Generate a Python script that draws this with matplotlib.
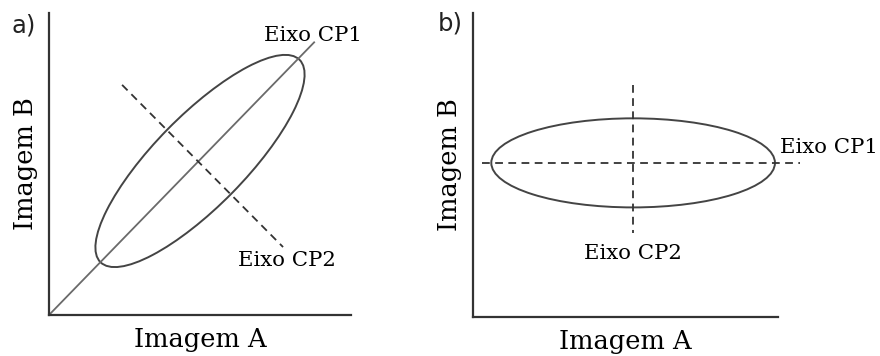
import matplotlib
matplotlib.use("Agg")
import matplotlib.pyplot as plt
from matplotlib.patches import Ellipse

# Panel a: correlated bands, principal axes rotated
a_center = (50, 51)
a_width, a_height, a_angle = 94, 30, 45.5
a_cp1 = ([0, 88], [0, 90.5])
a_cp2 = ([24.2, 77.5], [76.2, 22.5])

# Panel b: same data after rotation onto the principal components
b_center = (52.5, 50.7)
b_width, b_height, b_angle = 93, 29.3, 0
b_cp1 = ([3.0, 107.2], [50.7, 50.7])
b_cp2 = ([52.5, 52.5], [76.3, 27.6])

xlabel = "Imagem A"
ylabel = "Imagem B"
cp1_label = "Eixo CP1"
cp2_label = "Eixo CP2"

W, H, DPI = 880, 356, 100
fig = plt.figure(figsize=(W / DPI, H / DPI), dpi=DPI)
fig.patch.set_facecolor("white")

serif = "DejaVu Serif"
axis_color = "#333333"
ell_color = "#444444"
dash = (0, (4.3, 3.0))


def make_axes(left_px, top_px, right_px, bottom_px):
    ax = fig.add_axes([left_px / W, 1 - bottom_px / H,
                       (right_px - left_px) / W, (bottom_px - top_px) / H])
    ax.set_xlim(0, 100)
    ax.set_ylim(0, 100)
    for s in ("top", "right"):
        ax.spines[s].set_visible(False)
    for s in ("left", "bottom"):
        ax.spines[s].set_color(axis_color)
        ax.spines[s].set_linewidth(1.6)
    ax.set_xticks([])
    ax.set_yticks([])
    ax.set_xlabel(xlabel, family=serif, fontsize=18.5, labelpad=9)
    ax.set_ylabel(ylabel, family=serif, fontsize=18.5, labelpad=8)
    return ax


# ---- a) ----
ax1 = make_axes(49, 13, 351, 315)
ax1.add_patch(Ellipse(a_center, a_width, a_height, angle=a_angle,
                      fill=False, edgecolor=ell_color, linewidth=1.4))
ax1.plot(*a_cp1, color="#6a6a6a", linewidth=1.3, solid_capstyle="butt")
ax1.plot(*a_cp2, color="#333333", linewidth=1.3, linestyle=dash)
ax1.text(87.4, 92.7, cp1_label, family=serif, fontsize=15.3,
         ha="center", va="center")
ax1.text(78.8, 18.2, cp2_label, family=serif, fontsize=15.3,
         ha="center", va="center")
ax1.text(-8.3, 95.8, "a)", fontsize=17.5, ha="center", va="center",
         color="#222222")

# ---- b) ----
ax2 = make_axes(473, 13, 778, 317)
ax2.add_patch(Ellipse(b_center, b_width, b_height, angle=b_angle,
                      fill=False, edgecolor=ell_color, linewidth=1.4))
ax2.plot(*b_cp1, color="#333333", linewidth=1.3, linestyle=dash,
         clip_on=False)
ax2.plot(*b_cp2, color="#333333", linewidth=1.3, linestyle=dash)
ax2.text(100.5, 55.6, cp1_label, family=serif, fontsize=15.3,
         ha="left", va="center")
ax2.text(52.5, 21, cp2_label, family=serif, fontsize=15.3,
         ha="center", va="center")
ax2.text(-7.5, 96.5, "b)", fontsize=17.5, ha="center", va="center",
         color="#222222")

fig.savefig("out.png", dpi=DPI)
